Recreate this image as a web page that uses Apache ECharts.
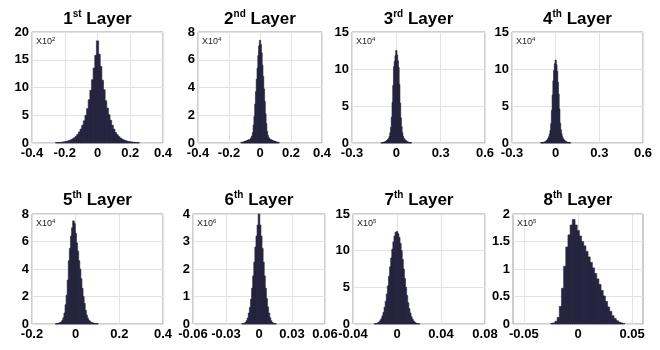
<!DOCTYPE html>
<html>
<head>
<meta charset="utf-8">
<script src="https://cdn.jsdelivr.net/npm/echarts@6/dist/echarts.min.js"></script>
<style>
  html, body { margin: 0; padding: 0; background: #fff; }
  #chart { width: 660px; height: 350px; }
</style>
</head>
<body>
<div id="chart"></div>
<script>
// layer names
const layerNum = ['1', '2', '3', '4', '5', '6', '7', '8'];
const layerSuffix = ['st', 'nd', 'rd', 'th', 'th', 'th', 'th', 'th'];
// y scale exponent shown as X10^n
const scaleExp = ['2', '4', '4', '4', '4', '6', '5', '5'];

// axis ranges and tick labels
const xRange = [[-0.4, 0.4], [-0.4, 0.4], [-0.3, 0.6], [-0.3, 0.6], [-0.2, 0.4], [-0.06, 0.06], [-0.04, 0.08], [-0.06, 0.06]];
const xTicks = [
  [-0.4, -0.2, 0, 0.2, 0.4],
  [-0.4, -0.2, 0, 0.2, 0.4],
  [-0.3, 0, 0.3, 0.6],
  [-0.3, 0, 0.3, 0.6],
  [-0.2, 0, 0.2, 0.4],
  [-0.06, -0.03, 0, 0.03, 0.06],
  [-0.04, 0, 0.04, 0.08],
  [-0.05, 0, 0.05]
];
const yTicks = [
  [0, 5, 10, 15, 20],
  [0, 2, 4, 6, 8],
  [0, 5, 10, 15],
  [0, 5, 10, 15],
  [0, 2, 4, 6, 8],
  [0, 1, 2, 3, 4],
  [0, 5, 10, 15],
  [0, 0.5, 1, 1.5, 2]
];

// histogram bins: centre of first bin, bin width, counts (in units of the X10^n label)
const binStart = [-0.25, -0.12, -0.1, -0.1, -0.09, -0.015, -0.02, -0.024];
const binWidth = [0.01, 0.005, 0.005, 0.005, 0.005, 0.001, 0.001, 0.002];

const counts1 = [0.06, 0.08, 0.1, 0.13, 0.17, 0.22, 0.28, 0.36, 0.46, 0.58, 0.75, 0.95, 1.2, 1.55, 2.0, 2.5, 3.2, 4.0, 5.0, 6.2, 7.8, 9.5, 11.4, 13.5, 15.8,
  18.4,
  16.0, 13.8, 11.3, 9.6, 7.6, 6.3, 5.1, 4.1, 3.2, 2.5, 1.9, 1.5, 1.15, 0.9, 0.7, 0.55, 0.43, 0.34, 0.27, 0.21, 0.17, 0.13, 0.1, 0.08, 0.06];
const counts2 = [0.04, 0.05, 0.06, 0.08, 0.1, 0.12, 0.14, 0.16, 0.19, 0.21, 0.23, 0.26, 0.3, 0.38, 0.5, 0.75, 1.3, 1.9, 2.8, 3.7, 4.6, 5.4, 6.3, 7.0,
  7.4,
  7.1, 6.5, 5.6, 4.8, 3.9, 3.0, 2.1, 1.4, 0.85, 0.55, 0.4, 0.32, 0.27, 0.24, 0.21, 0.18, 0.16, 0.14, 0.12, 0.1, 0.08, 0.06, 0.05, 0.04];
const counts3 = [0.04, 0.05, 0.07, 0.09, 0.12, 0.16, 0.22, 0.3, 0.4, 0.5, 0.65, 0.9, 1.4, 2.1, 3.5, 5.5, 7.8, 10.3, 11.0, 11.8,
  12.5,
  11.9, 11.1, 10.2, 7.9, 5.4, 3.4, 2.2, 1.4, 0.9, 0.65, 0.5, 0.4, 0.3, 0.22, 0.16, 0.12, 0.09, 0.07, 0.05, 0.04];
const counts4 = [0.04, 0.05, 0.06, 0.08, 0.1, 0.13, 0.18, 0.25, 0.35, 0.47, 0.62, 0.85, 1.2, 1.7, 2.6, 4.4, 6.5, 8.4, 9.8, 10.7,
  11.2,
  10.6, 9.7, 8.2, 6.6, 4.6, 2.7, 1.8, 1.25, 0.85, 0.62, 0.47, 0.35, 0.26, 0.19, 0.14, 0.1, 0.08, 0.06, 0.05, 0.04];
const counts5 = [0.02, 0.03, 0.05, 0.07, 0.1, 0.15, 0.25, 0.45, 0.8, 1.4, 2.1, 3.2, 4.6, 5.5, 6.4, 7.0, 7.5, 7.3,
  6.6, 5.9, 5.3, 4.6, 4.0, 3.3, 2.6, 2.0, 1.5, 1.0, 0.65, 0.42, 0.28, 0.19, 0.13, 0.09, 0.07, 0.05, 0.04, 0.03, 0.02];
const counts6 = [0.01, 0.015, 0.03, 0.06, 0.12, 0.22, 0.4, 0.6, 0.9, 1.3, 1.75, 2.25, 2.8, 3.2, 3.6,
  4.0,
  3.6, 3.2, 2.75, 2.25, 1.75, 1.3, 0.92, 0.62, 0.4, 0.23, 0.12, 0.06, 0.03, 0.015, 0.01];
const counts7 = [0.03, 0.05, 0.09, 0.16, 0.28, 0.46, 0.72, 1.1, 1.6, 2.3, 3.1, 4.1, 5.2, 6.5, 7.8, 9.0, 10.2, 11.2, 12.0, 12.5,
  12.6,
  12.3, 11.8, 11.0, 10.0, 8.8, 7.5, 6.2, 5.0, 3.9, 2.9, 2.1, 1.5, 1.0, 0.65, 0.41, 0.25, 0.14, 0.08, 0.04, 0.02];
const counts8 = [0.01, 0.02, 0.05, 0.12, 0.32, 0.65, 1.05, 1.4, 1.62, 1.8, 1.9, 1.8, 1.7, 1.6, 1.5, 1.42, 1.32, 1.22, 1.12, 1.02,
  0.92, 0.82, 0.72, 0.61, 0.51, 0.41, 0.31, 0.23, 0.15, 0.1, 0.06, 0.035, 0.02, 0.01];
const allCounts = [counts1, counts2, counts3, counts4, counts5, counts6, counts7, counts8];

// layout (pixels)
const gridLeft = [32, 198, 352, 512, 32, 193, 353, 513];
const gridWidth = [131, 124, 133, 131, 131, 132, 132, 130];
const rowTop = [32, 214];
const rowHeight = [111, 110];
const titleY = [19, 200];

const font = '"Liberation Sans", Arial, sans-serif';
const barColor = '#27253f';

const chart = echarts.init(document.getElementById('chart'), null, { renderer: 'canvas' });

const grids = [], xAxes = [], yAxes = [], series = [], graphics = [];

for (let i = 0; i < 8; i++) {
  const row = i < 4 ? 0 : 1;
  grids.push({
    left: gridLeft[i], width: gridWidth[i], top: rowTop[row], height: rowHeight[row],
    show: true, borderColor: '#9c9c9c', borderWidth: 1, backgroundColor: '#fff'
  });
  xAxes.push({
    type: 'value', gridIndex: i, min: xRange[i][0], max: xRange[i][1],
    axisLine: { show: false },
    axisTick: { show: false, customValues: xTicks[i] },
    axisLabel: {
      customValues: xTicks[i], color: '#000', fontFamily: font, fontWeight: 'bold', fontSize: 13, margin: 4,
      formatter: (v) => String(+v.toFixed(4))
    },
    splitLine: { show: true, lineStyle: { color: '#e3e3e3', width: 1 } }
  });
  yAxes.push({
    type: 'value', gridIndex: i, min: 0, max: yTicks[i][yTicks[i].length - 1],
    axisLine: { show: false },
    axisTick: { show: false, customValues: yTicks[i] },
    axisLabel: {
      customValues: yTicks[i], color: '#000', fontFamily: font, fontWeight: 'bold', fontSize: 13, margin: 3
    },
    splitLine: { show: true, lineStyle: { color: '#e3e3e3', width: 1 } }
  });

  const data = allCounts[i].map((c, k) => {
    const mid = binStart[i] + k * binWidth[i];
    return [mid - binWidth[i] / 2, mid + binWidth[i] / 2, c];
  });
  series.push({
    type: 'custom', xAxisIndex: i, yAxisIndex: i, data: data,
    encode: { x: [0, 1], y: 2 },
    renderItem: (params, api) => {
      const p0 = api.coord([api.value(0), api.value(2)]);
      const p1 = api.coord([api.value(1), 0]);
      return {
        type: 'rect',
        shape: { x: p0[0] - 0.3, y: p0[1], width: p1[0] - p0[0] + 0.6, height: p1[1] - p0[1] },
        style: { fill: barColor, stroke: barColor, lineWidth: 0.6 }
      };
    }
  });

  // panel title, e.g. 1st Layer
  graphics.push({
    type: 'text', x: gridLeft[i] + gridWidth[i] / 2, y: titleY[row],
    style: {
      text: '{b|' + layerNum[i] + '}{s|' + layerSuffix[i] + '}{b| Layer}',
      align: 'center', verticalAlign: 'middle',
      rich: {
        b: { fontFamily: font, fontWeight: 'bold', fontSize: 17, lineHeight: 20, fill: '#000' },
        s: { fontFamily: font, fontWeight: 'bold', fontSize: 10, lineHeight: 14, verticalAlign: 'top', fill: '#000' }
      }
    }
  });
  // scale label, e.g. X10^2
  graphics.push({
    type: 'text', x: gridLeft[i] + 4, y: rowTop[row] + 10,
    style: {
      text: '{a|X10}{e|' + scaleExp[i] + '}',
      align: 'left', verticalAlign: 'middle',
      rich: {
        a: { fontFamily: font, fontSize: 9, lineHeight: 11, fill: '#222' },
        e: { fontFamily: font, fontSize: 6, lineHeight: 7, verticalAlign: 'top', fill: '#222' }
      }
    },
    z: 10
  });
}

chart.setOption({
  animation: false,
  backgroundColor: '#fff',
  grid: grids,
  xAxis: xAxes,
  yAxis: yAxes,
  series: series,
  graphic: graphics
});
</script>
</body>
</html>
